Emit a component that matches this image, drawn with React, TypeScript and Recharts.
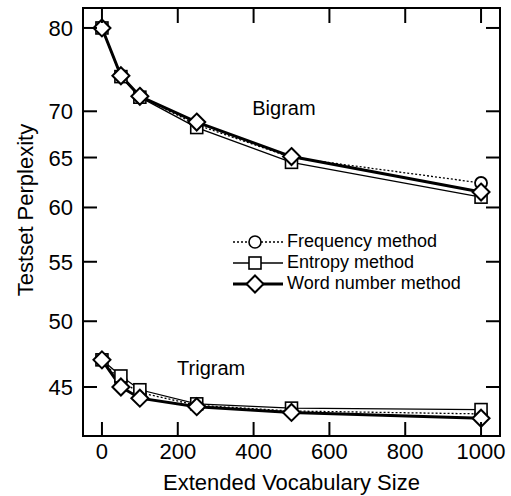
import React from 'react';
import { LineChart, Line, XAxis, YAxis, ReferenceArea, ReferenceDot, Legend } from 'recharts';

// vocabulary sizes tested
const vocabSizes = [0, 50, 100, 250, 500, 1000];

// bigram perplexity per method
const bigramFrequency = [80.0, 74.1, 71.7, 68.5, 65.0, 62.4];
const bigramEntropy = [80.0, 74.0, 71.6, 68.2, 64.5, 61.0];
const bigramWordNumber = [80.0, 74.1, 71.7, 68.8, 65.1, 61.5];

// trigram perplexity per method
const trigramFrequency = [47.0, 45.4, 44.6, 43.7, 43.3, 43.1];
const trigramEntropy = [47.0, 45.8, 44.8, 43.8, 43.5, 43.4];
const trigramWordNumber = [47.0, 45.0, 44.2, 43.6, 43.2, 42.8];

const xTicks = [0, 200, 400, 600, 800, 1000];
const yTicks = [45, 50, 55, 60, 65, 70, 80];
const legendLabels = ['Frequency method', 'Entropy method', 'Word number method'];

const data = vocabSizes.map((x, i) => ({
  x,
  bigramFrequency: bigramFrequency[i],
  bigramEntropy: bigramEntropy[i],
  bigramWordNumber: bigramWordNumber[i],
  trigramFrequency: trigramFrequency[i],
  trigramEntropy: trigramEntropy[i],
  trigramWordNumber: trigramWordNumber[i],
}));

const FONT = '"Liberation Sans", Arial, Helvetica, sans-serif';
const PLOT = { left: 83, right: 500, top: 8, bottom: 436 };
const X_DOMAIN = [-50, 1050];
const Y_DOMAIN = [41.6, 82.6];

const circleDot = (p: any) => (
  <circle key={`c-${p.dataKey}-${p.index}`} cx={p.cx} cy={p.cy} r={6} fill="#fff" stroke="#000" strokeWidth={1.8} />
);
const squareDot = (p: any) => (
  <rect key={`s-${p.dataKey}-${p.index}`} x={p.cx - 6} y={p.cy - 6} width={12} height={12} fill="#fff" stroke="#000" strokeWidth={1.6} />
);
const diamondDot = (p: any) => (
  <path
    key={`d-${p.dataKey}-${p.index}`}
    d={`M${p.cx},${p.cy - 8.5} L${p.cx + 8.5},${p.cy} L${p.cx},${p.cy + 8.5} L${p.cx - 8.5},${p.cy} Z`}
    fill="#fff"
    stroke="#000"
    strokeWidth={2}
  />
);

function XTick(props: any) {
  const { x, payload } = props;
  return (
    <g>
      <line x1={x} x2={x} y1={PLOT.bottom} y2={PLOT.bottom - 14} stroke="#000" strokeWidth={2} />
      <line x1={x} x2={x} y1={PLOT.top} y2={PLOT.top + 15} stroke="#000" strokeWidth={2} />
      <text x={x} y={459} textAnchor="middle" fontSize={22} fontFamily={FONT} fill="#000">
        {payload.value}
      </text>
    </g>
  );
}

function YTick(props: any) {
  const { y, payload } = props;
  return (
    <g>
      <line x1={PLOT.left} x2={PLOT.left + 14} y1={y} y2={y} stroke="#000" strokeWidth={2} />
      <line x1={PLOT.right} x2={PLOT.right - 14} y1={y} y2={y} stroke="#000" strokeWidth={2} />
      <text x={73} y={y + 8} textAnchor="end" fontSize={22} fontFamily={FONT} fill="#000">
        {payload.value}
      </text>
    </g>
  );
}

function LegendBox() {
  const markers = [
    <circle cx={24} cy={10} r={6} fill="#fff" stroke="#000" strokeWidth={1.6} />,
    <rect x={18} y={4} width={12} height={12} fill="#fff" stroke="#000" strokeWidth={1.6} />,
    <path d="M24,1.5 L32.5,10 L24,18.5 L15.5,10 Z" fill="#fff" stroke="#000" strokeWidth={2} />,
  ];
  const lines = [
    { w: 1.3, dash: '2 2' },
    { w: 1.3, dash: undefined },
    { w: 3, dash: undefined },
  ];
  return (
    <div style={{ fontFamily: FONT, fontSize: 18, color: '#000' }}>
      {legendLabels.map((label, i) => (
        <div key={label} style={{ display: 'flex', alignItems: 'center', height: 21 }}>
          <svg width={54} height={20} style={{ overflow: 'visible' }}>
            <line x1={2} x2={52} y1={10} y2={10} stroke="#000" strokeWidth={lines[i].w} strokeDasharray={lines[i].dash} />
            {markers[i]}
          </svg>
          <span style={{ marginLeft: 2, whiteSpace: 'nowrap' }}>{label}</span>
        </div>
      ))}
    </div>
  );
}

const yTitle = (props: any) => {
  const vb = props.viewBox;
  const cx = vb.x + 25;
  const cy = vb.y + vb.height / 2 - 12;
  return (
    <text
      x={cx}
      y={cy}
      transform={`rotate(-90 ${cx} ${cy})`}
      textAnchor="middle"
      dominantBaseline="central"
      fontSize={22}
      fontFamily={FONT}
      fill="#000"
    >
      Testset Perplexity
    </text>
  );
};

const xTitle = (props: any) => {
  const vb = props.viewBox;
  return (
    <text x={vb.x + vb.width / 2} y={490} textAnchor="middle" fontSize={22} fontFamily={FONT} fill="#000">
      Extended Vocabulary Size
    </text>
  );
};

export default function App() {
  return (
    <div style={{ position: 'absolute', left: 0, top: 0, width: 511, height: 496, background: '#fff' }}>
      <LineChart width={511} height={496} data={data} margin={{ top: 8, right: 11, bottom: 0, left: 0 }}>
        <XAxis
          dataKey="x"
          type="number"
          domain={X_DOMAIN}
          ticks={xTicks}
          height={60}
          axisLine={false}
          tickLine={false}
          tick={(p: any) => <XTick {...p} />}
          label={xTitle}
        />
        <YAxis
          type="number"
          scale="log"
          domain={Y_DOMAIN}
          ticks={yTicks}
          width={83}
          axisLine={false}
          tickLine={false}
          tick={(p: any) => <YTick {...p} />}
          label={yTitle}
        />
        <ReferenceArea x1={X_DOMAIN[0]} x2={X_DOMAIN[1]} y1={Y_DOMAIN[0]} y2={Y_DOMAIN[1]} fill="none" stroke="#000" strokeWidth={2} />

        <Line dataKey="bigramFrequency" stroke="#000" strokeWidth={1.3} strokeDasharray="2 2" dot={circleDot} isAnimationActive={false} legendType="none" />
        <Line dataKey="trigramFrequency" stroke="#000" strokeWidth={1.3} strokeDasharray="2 2" dot={circleDot} isAnimationActive={false} legendType="none" />
        <Line dataKey="bigramEntropy" stroke="#000" strokeWidth={1.3} dot={squareDot} isAnimationActive={false} legendType="none" />
        <Line dataKey="trigramEntropy" stroke="#000" strokeWidth={1.3} dot={squareDot} isAnimationActive={false} legendType="none" />
        <Line dataKey="bigramWordNumber" stroke="#000" strokeWidth={3} dot={diamondDot} isAnimationActive={false} legendType="none" />
        <Line dataKey="trigramWordNumber" stroke="#000" strokeWidth={3} dot={diamondDot} isAnimationActive={false} legendType="none" />

        <ReferenceDot x={480} y={70.4} r={0} stroke="none" label={{ value: 'Bigram', fontSize: 20, fontFamily: FONT, fill: '#000' }} />
        <ReferenceDot x={288} y={46.4} r={0} stroke="none" label={{ value: 'Trigram', fontSize: 20, fontFamily: FONT, fill: '#000' }} />

        <Legend
          layout="vertical"
          align="center"
          verticalAlign="middle"
          content={() => <LegendBox />}
          wrapperStyle={{ left: 231, top: 231, width: 240 }}
        />
      </LineChart>
    </div>
  );
}
